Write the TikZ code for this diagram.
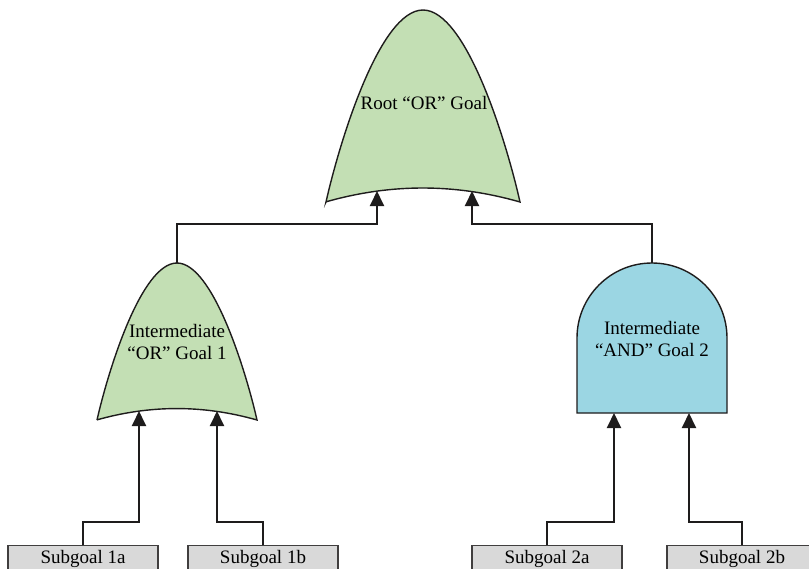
\documentclass[tikz,border=0pt]{standalone}
\usepackage{fontspec}
\setmainfont{Liberation Serif}
\usetikzlibrary{arrows.meta}
\definecolor{orgreen}{RGB}{195,223,180}
\definecolor{andblue}{RGB}{155,214,227}
\definecolor{boxgray}{RGB}{217,217,217}
\definecolor{inkline}{RGB}{30,28,28}
\newcommand{\orshape}{(-1,1) .. controls (-0.856,0.677) and (-0.443,0) .. (0,0) .. controls (0.443,0) and (0.856,0.677) .. (1,1) .. controls (0.33,0.903) and (-0.33,0.903) .. cycle}
\tikzset{
  gate/.style={draw=inkline, line width=1.4pt},
  gatetext/.style={align=center, font=\fontsize{19}{22}\selectfont, inner sep=0pt},
  subbox/.style={draw=inkline!85, line width=1.3pt, fill=boxgray, minimum width=150pt, minimum height=27pt, inner sep=0pt, font=\fontsize{19}{22}\selectfont, anchor=north},
  conn/.style={draw=inkline, line width=1.9pt, -{Triangle[length=15pt,width=14pt]}}
}
\begin{document}
\begin{tikzpicture}[x=1pt,y=-1pt]
\path[use as bounding box] (0,0) rectangle (809,568);
\clip (0,0) rectangle (809,568);
% root OR gate
\begin{scope}[shift={(423,10)},xscale=97,yscale=192]
\draw[gate,fill=orgreen] \orshape;
\end{scope}
\node[gatetext] (root) at (424,103) {Root “OR” Goal};
\coordinate (rin1) at (377,191);
\coordinate (rin2) at (472,191);
% intermediate OR gate
\begin{scope}[shift={(177,263)},xscale=80,yscale=157]
\draw[gate,fill=orgreen] \orshape;
\end{scope}
\node[gatetext] (g1) at (177,342) {Intermediate\\“OR” Goal 1};
\coordinate (g1tip) at (177,263);
\coordinate (g1in1) at (139,411);
\coordinate (g1in2) at (217,411);
% intermediate AND gate
\draw[gate,fill=andblue] (577,413) -- (577,338) .. controls (577,296.6) and (610.6,263) .. (652,263) .. controls (693.4,263) and (727,296.6) .. (727,338) -- (727,413) -- cycle;
\node[gatetext] (g2) at (652,339) {Intermediate\\“AND” Goal 2};
\coordinate (g2tip) at (652,263);
\coordinate (g2in1) at (614,413);
\coordinate (g2in2) at (689,413);
% subgoals (their lower part lies below the picture's edge, as in the reference)
\node[subbox] (s1a) at (83,545) {Subgoal 1a};
\node[subbox] (s1b) at (263,545) {Subgoal 1b};
\node[subbox] (s2a) at (547,545) {Subgoal 2a};
\node[subbox] (s2b) at (742,545) {Subgoal 2b};
% connectors
\draw[conn] (g1tip) -- ++(0,-39) -| (rin1);
\draw[conn] (g2tip) -- ++(0,-39) -| (rin2);
\draw[conn] (s1a.north) -- ++(0,-23) -| (g1in1);
\draw[conn] (s1b.north) -- ++(0,-23) -| (g1in2);
\draw[conn] (s2a.north) -- ++(0,-23) -| (g2in1);
\draw[conn] (s2b.north) -- ++(0,-23) -| (g2in2);
\end{tikzpicture}
\end{document}
